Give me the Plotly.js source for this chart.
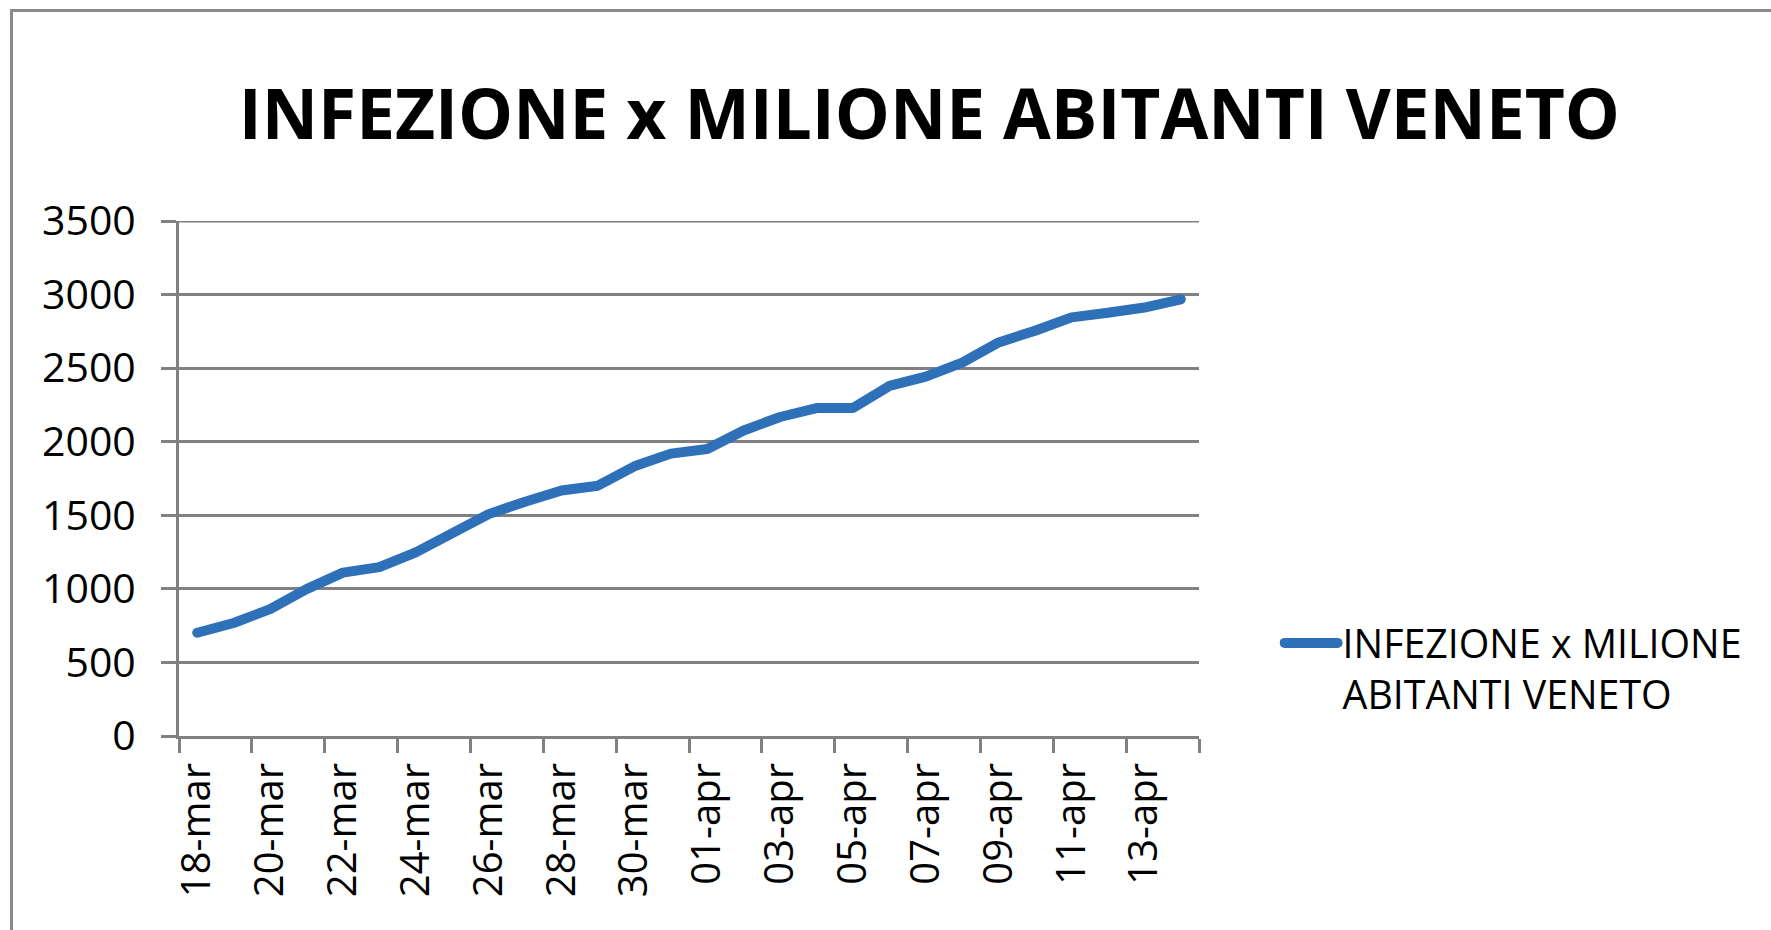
<!DOCTYPE html>
<html>
<head>
<meta charset="utf-8">
<script src="https://cdn.plot.ly/plotly-3.0.1.min.js"></script>
<style>
  html, body { margin: 0; padding: 0; background: #ffffff; }
  #wrap { position: relative; width: 1771px; height: 930px; overflow: hidden; }
  #chart { width: 1771px; height: 930px; }
  #frame { position: absolute; left: 10px; top: 9px; width: 1800px; height: 960px;
           border-left: 3px solid #8a8a8a; border-top: 3px solid #8a8a8a; pointer-events: none; }
  .scatterlayer path.js-line, .legend path.js-line { stroke-linecap: round; stroke-linejoin: round; }
</style>
</head>
<body>
<div id="wrap">
  <div id="chart"></div>
  <div id="frame"></div>
</div>
<script>
const chartTitle = "INFEZIONE x MILIONE ABITANTI VENETO";
const seriesName = "INFEZIONE x MILIONE<br>ABITANTI VENETO";
const dates = [
  "18-mar","19-mar","20-mar","21-mar","22-mar","23-mar","24-mar","25-mar","26-mar","27-mar",
  "28-mar","29-mar","30-mar","31-mar","01-apr","02-apr","03-apr","04-apr","05-apr","06-apr",
  "07-apr","08-apr","09-apr","10-apr","11-apr","12-apr","13-apr","14-apr"
];
const infectionsPerMillion = [
  702, 768, 862, 998, 1110, 1148, 1248, 1386, 1508, 1592,
  1668, 1701, 1833, 1919, 1950, 2076, 2168, 2229, 2229, 2379,
  2442, 2537, 2675, 2754, 2845, 2876, 2912, 2968
];
const yTicks = [0, 500, 1000, 1500, 2000, 2500, 3000, 3500];
const yMax = 3500;

const gray = "#808080";
const fontFamily = "'Open Sans', 'Noto Sans', sans-serif";

const trace = {
  type: "scatter",
  mode: "lines",
  x: dates,
  y: infectionsPerMillion,
  name: seriesName,
  line: { color: "#2f71b8", width: 10 },
  showlegend: true,
  hoverinfo: "x+y"
};

const layout = {
  width: 1771,
  height: 930,
  paper_bgcolor: "#ffffff",
  plot_bgcolor: "#ffffff",
  margin: { l: 179, r: 572, t: 221, b: 193.5, pad: 0 },
  font: { family: fontFamily, color: "#000000", size: 40 },
  title: {
    text: "<b>" + chartTitle + "</b>",
    font: { family: fontFamily, size: 69.3, color: "#000000" },
    xref: "container", x: 0.5248, xanchor: "center",
    yref: "container", y: 0.8765, yanchor: "middle"
  },
  showlegend: true,
  legend: {
    x: 1.079, xanchor: "left",
    y: 0.243, yanchor: "top",
    font: { family: fontFamily, size: 39.3, color: "#000000" },
    valign: "top",
    itemwidth: 53,
    bgcolor: "rgba(0,0,0,0)",
    borderwidth: 0
  },
  shapes: [
    { type: "line", xref: "paper", x0: 0, x1: 1, yref: "y", y0: yMax, y1: yMax,
      line: { color: gray, width: 3 }, layer: "below" }
  ],
  xaxis: {
    type: "category",
    categoryorder: "array",
    categoryarray: dates,
    range: [-0.5, dates.length - 0.5],
    tickmode: "linear",
    tick0: 0,
    dtick: 2,
    tickson: "boundaries",
    ticks: "outside",
    ticklen: 14,
    tickwidth: 3,
    tickcolor: gray,
    tickangle: -90,
    ticklabelstandoff: 8,
    tickfont: { family: fontFamily, size: 40, color: "#000000" },
    showline: true,
    linecolor: gray,
    linewidth: 3,
    showgrid: false,
    zeroline: false,
    fixedrange: true
  },
  yaxis: {
    range: [0, yMax],
    tickmode: "array",
    tickvals: yTicks,
    ticktext: yTicks.map(String),
    ticks: "outside",
    ticklen: 15,
    tickwidth: 3,
    tickcolor: gray,
    ticklabelstandoff: 17,
    tickfont: { family: fontFamily, size: 41, color: "#000000" },
    showline: true,
    linecolor: gray,
    linewidth: 3,
    showgrid: true,
    gridcolor: gray,
    gridwidth: 3,
    zeroline: false,
    fixedrange: true
  }
};

Plotly.newPlot("chart", [trace], layout, { displayModeBar: false, staticPlot: true });
</script>
</body>
</html>
